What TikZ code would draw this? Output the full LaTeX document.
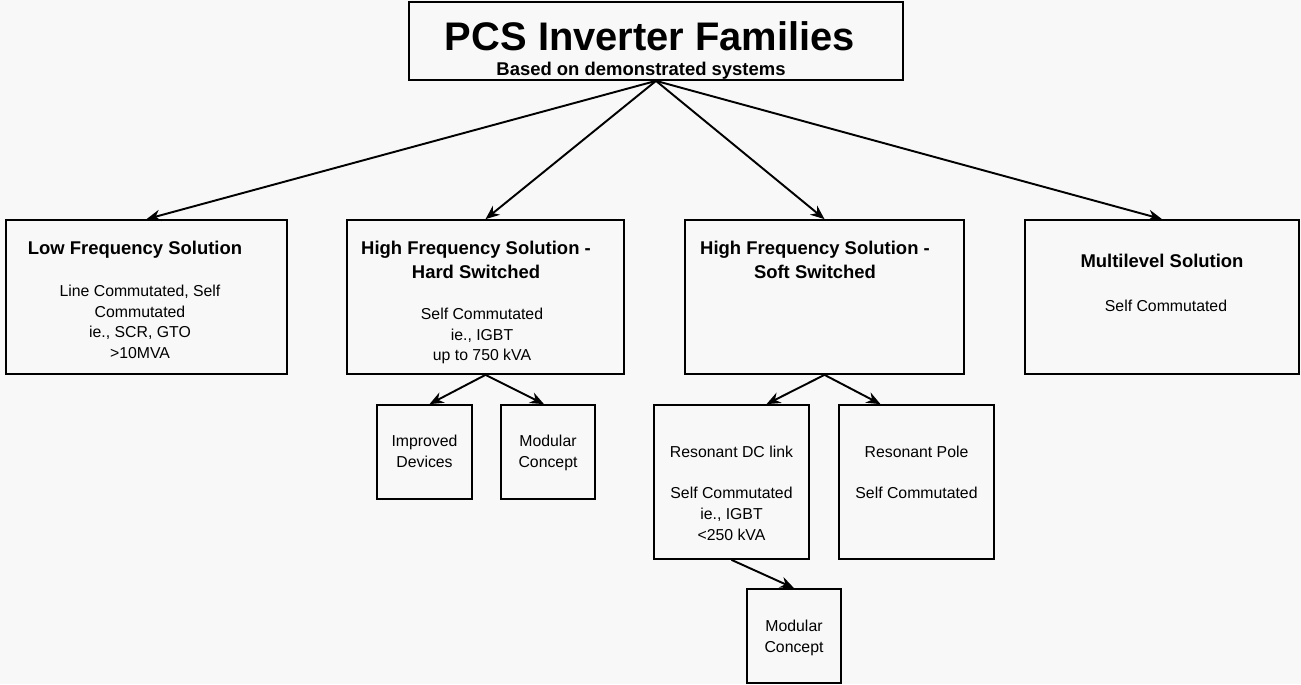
\documentclass[tikz,border=0pt]{standalone}
\usepackage{fontspec}
\setmainfont{Liberation Sans}
\usetikzlibrary{arrows.meta,positioning}

\definecolor{paper}{RGB}{247,248,247}

\begin{document}
\begin{tikzpicture}[
        x=0.02cm, y=-0.02cm,
        >={Stealth[length=8pt,width=6.5pt]},
        box/.style={draw, line width=1pt, inner sep=0pt},
        head/.style={anchor=north, inner sep=0pt, align=center, font=\bfseries\fontsize{10.5}{13.3}\selectfont},
        txt/.style={anchor=north, inner sep=0pt, align=center, font=\fontsize{9}{11.7}\selectfont},
        seta/.style={->, line width=1.1pt}
    ]

        \fill[paper] (0,0) rectangle (1301,684);
        \useasboundingbox (0,0) rectangle (1301,684);

        % ==================================================
        % TITLE
        % ==================================================

        \node[box, minimum width=9.88cm, minimum height=1.56cm] (top) at (656,41) {};
        \node[anchor=north, inner sep=0pt, font=\bfseries\fontsize{22.7}{26}\selectfont] (toptitle) at (650,21) {PCS Inverter Families};
        \node[anchor=north, inner sep=0pt, font=\bfseries\fontsize{10.5}{12}\selectfont] (topsub) at (641,62) {Based on demonstrated systems};

        % ==================================================
        % FAMILIES
        % ==================================================

        \node[box, minimum width=5.62cm, minimum height=3.08cm] (low)   at (146.5,297) {};
        \node[box, minimum width=5.54cm, minimum height=3.08cm] (hard)  at (485.5,297) {};
        \node[box, minimum width=5.58cm, minimum height=3.08cm] (soft)  at (824.5,297) {};
        \node[box, minimum width=5.48cm, minimum height=3.08cm] (multi) at (1162,297) {};

        \node[head] (lowhead)   at (135,241) {Low Frequency Solution};
        \node[txt]  (lowtxt)    at (140,285) {Line Commutated, Self\\Commutated\\ie., SCR, GTO\\>10MVA};

        \node[head] (hardhead)  at (476,241) {High Frequency Solution -\\Hard Switched};
        \node[txt]  (hardtxt)   at (482,308) {Self Commutated\\ie., IGBT\\up to 750 kVA};

        \node[head] (softhead)  at (815,241) {High Frequency Solution -\\Soft Switched};

        \node[head] (multihead) at (1162,254) {Multilevel Solution};
        \node[txt]  (multitxt)  at (1166,300) {Self Commutated};

        % ==================================================
        % SUB-FAMILIES
        % ==================================================

        \node[box, minimum width=1.9cm, minimum height=1.88cm]  (imp)   at (424.5,452) {};
        \node[box, minimum width=1.88cm, minimum height=1.88cm] (mod)   at (548,452) {};
        \node[box, minimum width=3.1cm, minimum height=3.08cm]  (rdc)   at (731.5,482) {};
        \node[box, minimum width=3.1cm, minimum height=3.08cm]  (rpole) at (916.5,482) {};
        \node[box, minimum width=1.88cm, minimum height=1.88cm] (modb)  at (794,636) {};

        \node[txt] (imptxt)   at (424.5,435) {Improved\\Devices};
        \node[txt] (modtxt)   at (548,435) {Modular\\Concept};
        \node[txt] (rdctxt)   at (731.5,446) {Resonant DC link\\[11.7pt]Self Commutated\\ie., IGBT\\<250 kVA};
        \node[txt] (rpoletxt) at (916.5,446) {Resonant Pole\\[11.7pt]Self Commutated};
        \node[txt] (modbtxt)  at (794,620) {Modular\\Concept};

        % Setas
        \draw[seta] (top.south) -- (low.north);
        \draw[seta] (top.south) -- (hard.north);
        \draw[seta] (top.south) -- (soft.north);
        \draw[seta] (top.south) -- (multi.north);

        \draw[seta] (hard.south) -- ([xshift=0.1cm]imp.north);
        \draw[seta] (hard.south) -- ([xshift=-0.08cm]mod.north);

        \draw[seta] (soft.south) -- ([xshift=0.7cm]rdc.north);
        \draw[seta] (soft.south) -- ([xshift=-0.72cm]rpole.north);

        \draw[seta] (rdc.south) -- (modb.north);
    \end{tikzpicture}
\end{document}
